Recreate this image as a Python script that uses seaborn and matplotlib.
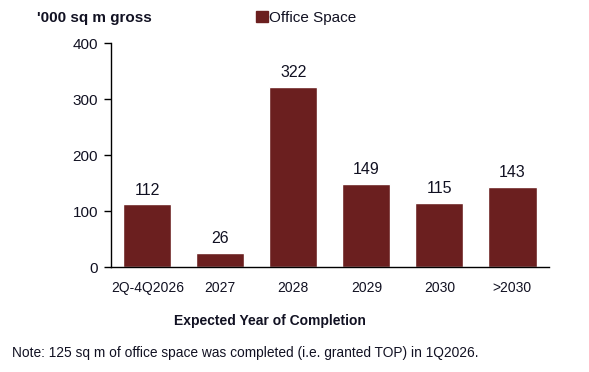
import matplotlib
matplotlib.use("Agg")
import matplotlib.pyplot as plt
import seaborn as sns
import pandas as pd
from matplotlib.patches import Rectangle

# data
periods = ["2Q-4Q2026", "2027", "2028", "2029", "2030", ">2030"]
office_space = [112, 26, 322, 149, 115, 143]

bar_color = "#6B1F1F"
text_color = "#111122"

sns.set_theme(style="white")
plt.rcParams['font.family'] = ['Liberation Sans', 'DejaVu Sans']
plt.rcParams['text.color'] = text_color

df = pd.DataFrame({"period": periods, "value": office_space})

fig = plt.figure(figsize=(5.89, 3.72), dpi=100)
ax = fig.add_axes([0.188, 0.282, 0.744, 0.602])

sns.barplot(data=df, x="period", y="value", color=bar_color, width=0.66,
            saturation=1, ax=ax)

for i, v in enumerate(office_space):
    ax.text(i, v + 12, str(v), ha="center", va="bottom", fontsize=11.5,
            color=text_color)

ax.set_ylim(0, 400)
ax.set_yticks([0, 100, 200, 300, 400])
ax.set_xlim(-0.5, len(periods) - 0.5)
ax.set_xlabel("")
ax.set_ylabel("")
for s in ["top", "right"]:
    ax.spines[s].set_visible(False)
for s in ["left", "bottom"]:
    ax.spines[s].set_color("black")
    ax.spines[s].set_linewidth(1.0)
ax.tick_params(axis="y", which="both", left=True, length=5, width=1,
               color="black", labelsize=11, labelcolor=text_color, pad=4)
ax.tick_params(axis="x", bottom=False, labelsize=10, labelcolor=text_color, pad=4)

fig.text(0.063, 0.952, "'000 sq m gross", fontsize=11, fontweight="bold",
         ha="left", va="center")

handle = Rectangle((0, 0), 1, 1, color=bar_color)
fig.legend([handle], ["Office Space"], loc="center left",
           bbox_to_anchor=(0.434, 0.952), frameon=False, fontsize=11,
           handlelength=0.8, handleheight=0.8, handletextpad=0.1,
           borderpad=0, borderaxespad=0)

fig.text(0.459, 0.137, "Expected Year of Completion", fontsize=10,
         fontweight="bold", ha="center", va="center")
fig.text(0.02, 0.052,
         "Note: 125 sq m of office space was completed (i.e. granted TOP) in 1Q2026.",
         fontsize=9.9, ha="left", va="center")

fig.savefig("out.png", dpi=100, facecolor="white")
